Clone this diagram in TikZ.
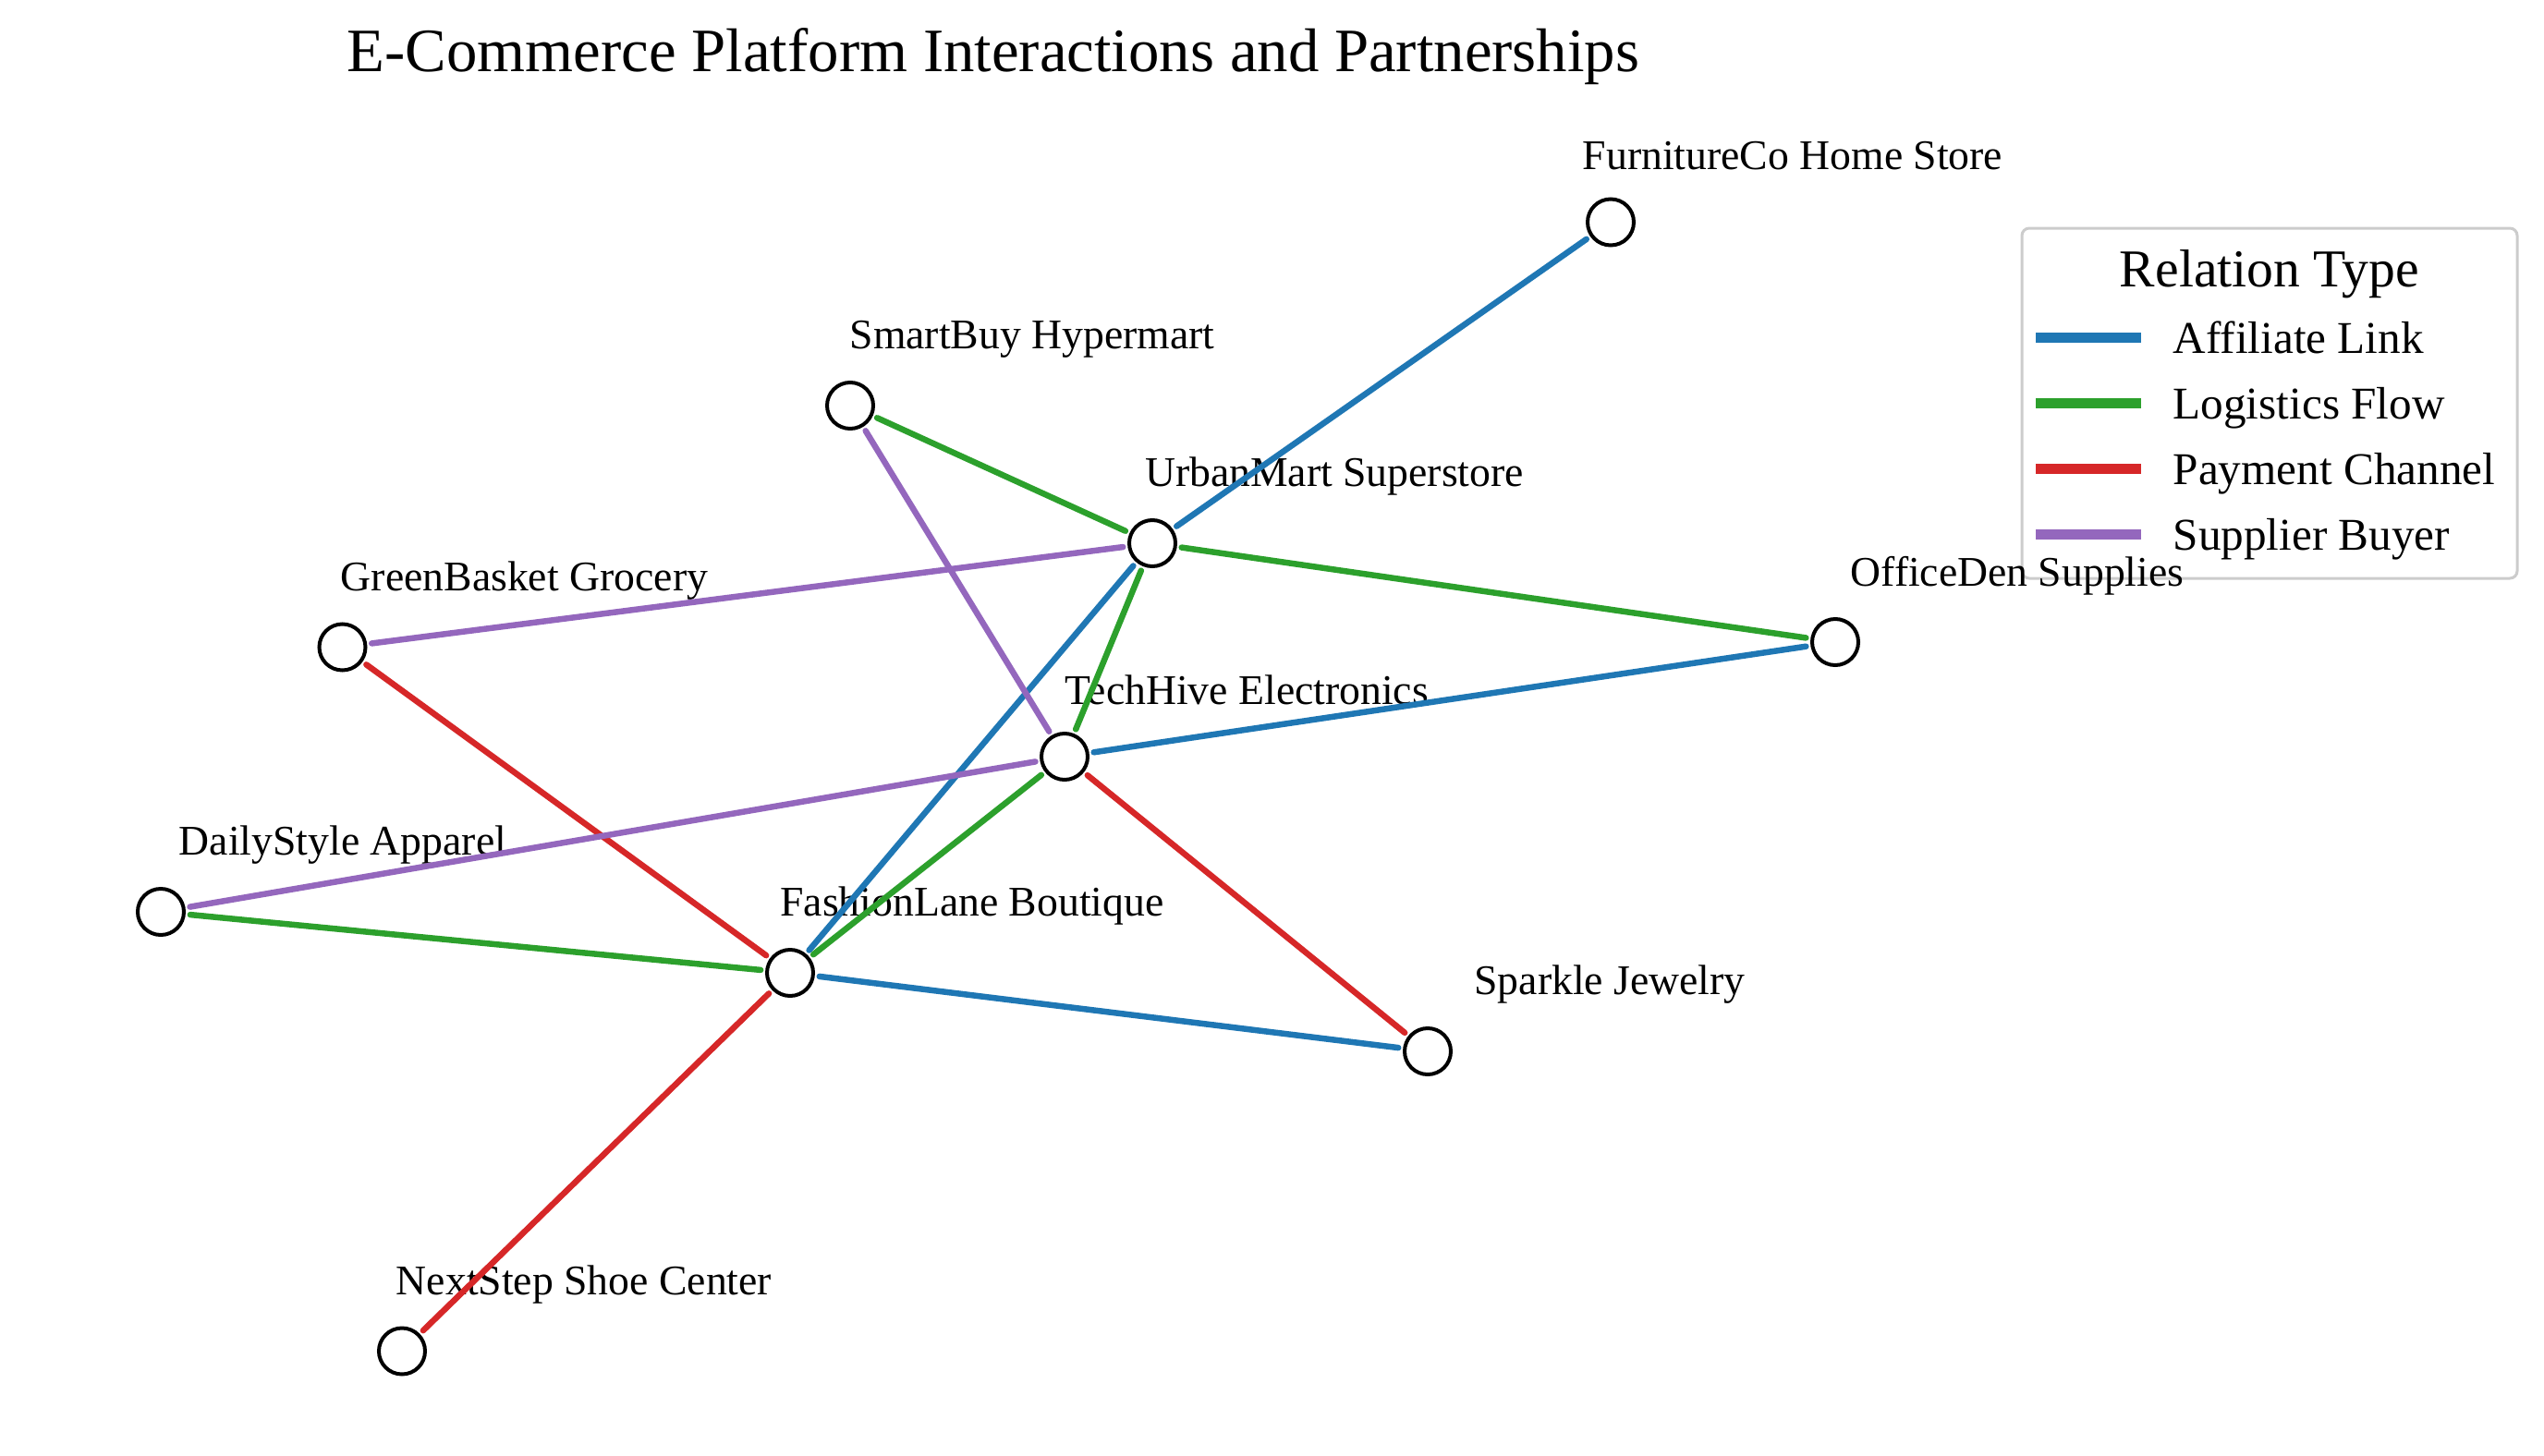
\documentclass[tikz,border=0pt]{standalone}
\usepackage{fontspec}
\setmainfont{Liberation Serif}
\usepackage{xcolor}
\usepackage{tikz}
\usetikzlibrary{positioning}

\definecolor{affblue}{HTML}{1F77B4}
\definecolor{logigreen}{HTML}{2CA02C}
\definecolor{payred}{HTML}{D62728}
\definecolor{supppurple}{HTML}{9467BD}
\definecolor{legframe}{HTML}{CCCCCC}

\begin{document}
\begin{tikzpicture}[
  firm/.style={draw, circle, line width=0.04cm, fill=white, minimum size=0.5cm, inner sep=0pt},
  lbl/.style={font=\fontsize{13}{15}\selectfont, inner sep=0pt, anchor=base, xshift=1.97cm, yshift=0.72cm},
  link/.style={line width=0.065cm, line cap=round, shorten <=0.05cm, shorten >=0.05cm},
  aff/.style={link, affblue},
  logi/.style={link, logigreen},
  pay/.style={link, payred},
  supp/.style={link, supppurple},
  legline/.style={line width=0.11cm},
  legtxt/.style={font=\fontsize{14}{16}\selectfont, inner sep=0pt, anchor=base west}
]
\useasboundingbox (0,0) rectangle (27.53,-15.76);
\node[font=\fontsize{19}{23}\selectfont, inner sep=0pt, anchor=base] (title) at (10.75,-0.77) {E-Commerce Platform Interactions and Partnerships};
% legend
\draw[legframe, line width=0.03cm, rounded corners=0.08cm] (21.88,-2.47) rectangle (27.24,-6.26);
\node[font=\fontsize{16.4}{19}\selectfont, inner sep=0pt, anchor=base] (legtitle) at (24.56,-3.10) {Relation Type};
\draw[legline, affblue] (22.03,-3.65) -- ++(1.14,0);
\node[legtxt] (legaff) at (23.51,-3.82) {Affiliate Link};
\draw[legline, logigreen] (22.03,-4.36) -- ++(1.14,0);
\node[legtxt] (leglogi) at (23.51,-4.53) {Logistics Flow};
\draw[legline, payred] (22.03,-5.07) -- ++(1.14,0);
\node[legtxt] (legpay) at (23.51,-5.24) {Payment Channel};
\draw[legline, supppurple] (22.03,-5.78) -- ++(1.14,0);
\node[legtxt] (legsupp) at (23.51,-5.95) {Supplier Buyer};
% platforms
\node[firm, label={[lbl]center:FurnitureCo Home Store}] (furn) at (17.43,-2.405) {};
\node[firm, label={[lbl]center:SmartBuy Hypermart}] (smart) at (9.20,-4.39) {};
\node[firm, label={[lbl]center:UrbanMart Superstore}] (urban) at (12.47,-5.88) {};
\node[firm, label={[lbl]center:GreenBasket Grocery}] (greenb) at (3.705,-7.005) {};
\node[firm, label={[lbl]center:OfficeDen Supplies}] (office) at (19.86,-6.95) {};
\node[firm, label={[lbl]center:TechHive Electronics}] (tech) at (11.52,-8.19) {};
\node[firm, label={[lbl]center:DailyStyle Apparel}] (daily) at (1.74,-9.87) {};
\node[firm, label={[lbl]center:FashionLane Boutique}] (fashion) at (8.55,-10.53) {};
\node[firm, label={[lbl]center:Sparkle Jewelry}] (sparkle) at (15.45,-11.38) {};
\node[firm, label={[lbl]center:NextStep Shoe Center}] (nextstep) at (4.35,-14.625) {};
% relations
\draw[aff] (furn) -- (urban);
\draw[aff] (urban) -- (fashion);
\draw[aff] (office) -- (tech);
\draw[aff] (fashion) -- (sparkle);
\draw[logi] (urban) -- (smart);
\draw[logi] (urban) -- (office);
\draw[logi] (urban) -- (tech);
\draw[logi] (tech) -- (fashion);
\draw[logi] (daily) -- (fashion);
\draw[pay] (greenb) -- (fashion);
\draw[pay] (tech) -- (sparkle);
\draw[pay] (fashion) -- (nextstep);
\draw[supp] (urban) -- (greenb);
\draw[supp] (smart) -- (tech);
\draw[supp] (tech) -- (daily);
\end{tikzpicture}
\end{document}
